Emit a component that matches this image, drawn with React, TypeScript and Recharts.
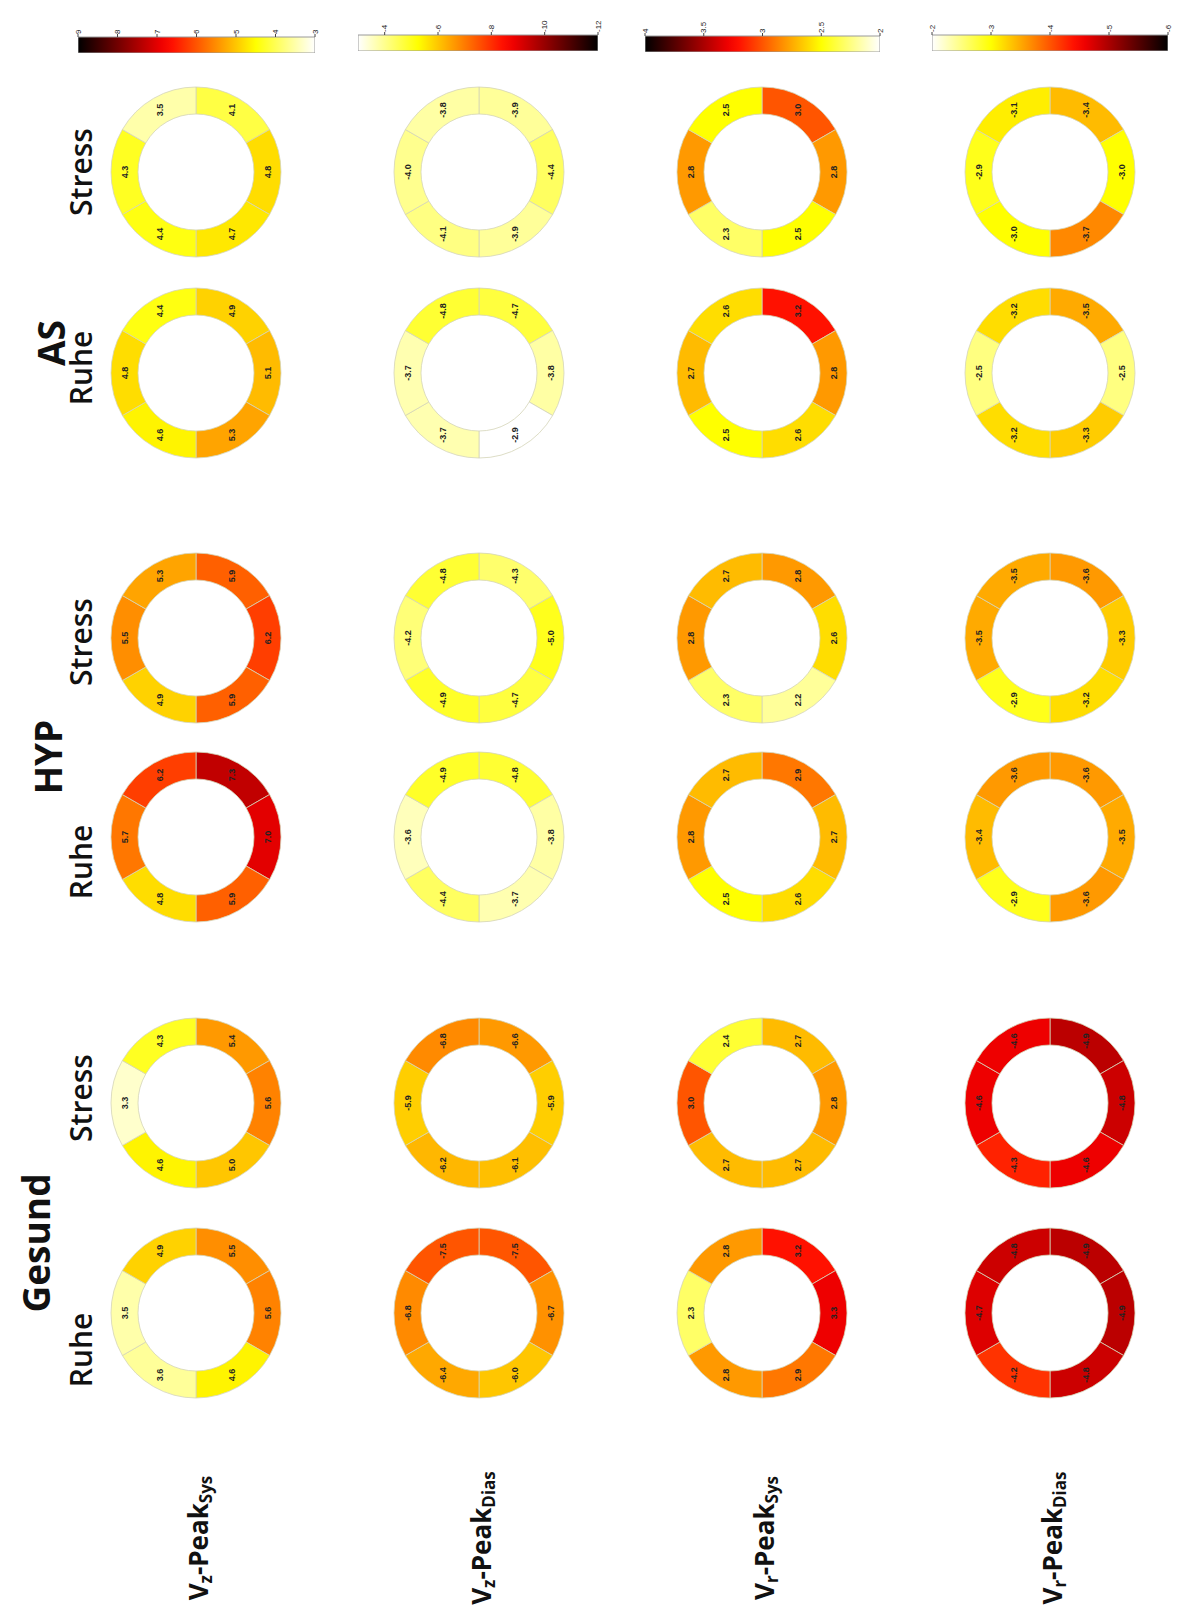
import React from 'react'
import { PieChart, Pie, Cell, BarChart, Bar, XAxis, YAxis } from 'recharts'

// conditions, bottom to top in the (rotated) figure
const conditions = ['Gesund Ruhe', 'Gesund Stress', 'HYP Ruhe', 'HYP Stress', 'AS Ruhe', 'AS Stress']
const groupLabels = ['Gesund', 'HYP', 'AS']
const stateLabels = ['Ruhe', 'Stress', 'Ruhe', 'Stress', 'Ruhe', 'Stress']

// measures, top to bottom
const measureSub = ['z', 'z', 'r', 'r']
const measurePhase = ['Sys', 'Dias', 'Sys', 'Dias']

// colour scale ends (white end / black end) and colorbar ticks per measure
const whiteEnd = [3, -3, 2, -2]
const blackEnd = [9, -12, 4, -6]
const cbTicks = [
  [9, 8, 7, 6, 5, 4, 3],
  [-4, -6, -8, -10, -12],
  [4, 3.5, 3, 2.5, 2],
  [-2, -3, -4, -5, -6],
]

// 6 segments each, clockwise from 12 o'clock; one row per condition
const vzSys = [
  [5.5, 5.6, 4.6, 3.6, 3.5, 4.9],
  [5.4, 5.6, 5.0, 4.6, 3.3, 4.3],
  [7.3, 7.0, 5.9, 4.8, 5.7, 6.2],
  [5.9, 6.2, 5.9, 4.9, 5.5, 5.3],
  [4.9, 5.1, 5.3, 4.6, 4.8, 4.4],
  [4.1, 4.8, 4.7, 4.4, 4.3, 3.5],
]
const vzDias = [
  [-7.5, -6.7, -6.0, -6.4, -6.8, -7.5],
  [-6.6, -5.9, -6.1, -6.2, -5.9, -6.8],
  [-4.8, -3.8, -3.7, -4.4, -3.6, -4.9],
  [-4.3, -5.0, -4.7, -4.9, -4.2, -4.8],
  [-4.7, -3.8, -2.9, -3.7, -3.7, -4.8],
  [-3.9, -4.4, -3.9, -4.1, -4.0, -3.8],
]
const vrSys = [
  [3.2, 3.3, 2.9, 2.8, 2.3, 2.8],
  [2.7, 2.8, 2.7, 2.7, 3.0, 2.4],
  [2.9, 2.7, 2.6, 2.5, 2.8, 2.7],
  [2.8, 2.6, 2.2, 2.3, 2.8, 2.7],
  [3.2, 2.8, 2.6, 2.5, 2.7, 2.6],
  [3.0, 2.8, 2.5, 2.3, 2.8, 2.5],
]
const vrDias = [
  [-4.9, -4.9, -4.8, -4.2, -4.7, -4.8],
  [-4.9, -4.8, -4.6, -4.3, -4.6, -4.6],
  [-3.6, -3.5, -3.6, -2.9, -3.4, -3.6],
  [-3.6, -3.3, -3.2, -2.9, -3.5, -3.5],
  [-3.5, -2.5, -3.3, -3.2, -2.5, -3.2],
  [-3.4, -3.0, -3.7, -3.0, -2.9, -3.1],
]
const measureData = [vzSys, vzDias, vrSys, vrDias]

// layout (page px)
const rowX = [196, 479, 762, 1050]
const colY = [1313, 1103, 837, 638, 373, 172]
const stateY = [1350, 1098, 862, 642, 368, 172]
const groupPos = [[35, 1243], [47, 757], [50, 343]]
const cbLeft = [78, 358, 645, 932]
const cbRight = [315, 598, 880, 1168]
const cbTop = [37, 35, 36, 35]

const RADIAN = Math.PI / 180
const clamp = (v: number) => Math.max(0, Math.min(1, v))

// MATLAB "hot"
function hot(t: number) {
  t = clamp(t)
  const r = Math.round(255 * clamp(t / 0.375))
  const g = Math.round(255 * clamp((t - 0.375) / 0.375))
  const b = Math.round(255 * clamp((t - 0.75) / 0.25))
  return `rgb(${r},${g},${b})`
}
const colorFor = (m: number, v: number) => hot((v - blackEnd[m]) / (whiteEnd[m] - blackEnd[m]))

const SIZE = 190

function Donut({ m, c }: { m: number; c: number }) {
  const data = measureData[m][c].map((v, i) => ({ seg: i + 1, size: 1, val: v }))
  const renderLabel = (p: any) => {
    const r = (p.innerRadius + p.outerRadius) / 2
    const x = p.cx + r * Math.cos(-p.midAngle * RADIAN)
    const y = p.cy + r * Math.sin(-p.midAngle * RADIAN)
    return (
      <text
        key={`l${p.index}`}
        transform={`translate(${x},${y}) rotate(-90)`}
        textAnchor="middle"
        dominantBaseline="central"
        fontSize={9}
        fontWeight="bold"
        fontFamily="Liberation Sans, Arial, sans-serif"
        fill="#222"
      >
        {p.payload.val.toFixed(1)}
      </text>
    )
  }
  return (
    <div style={{ position: 'absolute', left: rowX[m] - SIZE / 2, top: colY[c] - SIZE / 2 }}>
      <PieChart width={SIZE} height={SIZE} margin={{ top: 0, right: 0, bottom: 0, left: 0 }}>
        <Pie
          data={data}
          dataKey="size"
          cx="50%"
          cy="50%"
          innerRadius={58}
          outerRadius={85}
          startAngle={90}
          endAngle={-270}
          stroke="#d4d4b8"
          strokeWidth={0.8}
          label={renderLabel}
          labelLine={false}
          isAnimationActive={false}
        >
          {data.map((d, i) => (
            <Cell key={i} fill={colorFor(m, d.val)} />
          ))}
        </Pie>
      </PieChart>
    </div>
  )
}

function Colorbar({ m }: { m: number }) {
  const lo = Math.min(whiteEnd[m], blackEnd[m])
  const hi = Math.max(whiteEnd[m], blackEnd[m])
  const pad = 8
  const axisH = 22
  const barH = 16
  const data = [{ name: 'cb', range: [lo, hi] }]
  const stops = Array.from({ length: 21 }, (_, i) => {
    const v = hi - (i / 20) * (hi - lo)
    return { off: i / 20, col: colorFor(m, v) }
  })
  const tick = (p: any) => (
    <text
      transform={`translate(${p.x},${p.y + 2}) rotate(-90)`}
      textAnchor="start"
      dominantBaseline="central"
      fontSize={8}
      fontFamily="Liberation Sans, Arial, sans-serif"
      fill="#222"
    >
      {p.payload.value}
    </text>
  )
  return (
    <div style={{ position: 'absolute', left: cbLeft[m] - pad, top: cbTop[m] - axisH }}>
      <BarChart
        width={cbRight[m] - cbLeft[m] + 2 * pad}
        height={axisH + barH}
        data={data}
        layout="vertical"
        margin={{ top: 0, right: pad, bottom: 0, left: pad }}
        barCategoryGap={0}
      >
        <defs>
          <linearGradient id={`cb${m}`} x1="0" y1="0" x2="1" y2="0">
            {stops.map((s, i) => (
              <stop key={i} offset={s.off} stopColor={s.col} />
            ))}
          </linearGradient>
        </defs>
        <XAxis
          type="number"
          orientation="top"
          domain={[lo, hi]}
          reversed
          ticks={cbTicks[m]}
          height={axisH}
          tick={tick}
          tickSize={3}
          tickLine={{ stroke: '#444' }}
          axisLine={false}
          interval={0}
          allowDataOverflow
        />
        <YAxis type="category" dataKey="name" hide />
        <Bar dataKey="range" fill={`url(#cb${m})`} stroke="#9a9a9a" strokeWidth={1} isAnimationActive={false} />
      </BarChart>
    </div>
  )
}

export default function App() {
  return (
    <div style={{ position: 'absolute', left: 0, top: 0, width: 1177, height: 1606, background: '#fff', overflow: 'hidden' }}>
      {measureData.map((_, m) =>
        conditions.map((_, c) => <Donut key={`${m}-${c}`} m={m} c={c} />)
      )}
      {measureData.map((_, m) => (
        <Colorbar key={m} m={m} />
      ))}
      <svg width={1177} height={1606} style={{ position: 'absolute', left: 0, top: 0, pointerEvents: 'none' }}>
        {groupLabels.map((g, i) => (
          <text
            key={g}
            transform={`translate(${groupPos[i][0]},${groupPos[i][1]}) rotate(-90)`}
            textAnchor="middle"
            dominantBaseline="central"
            fontSize={37}
            fontWeight="bold"
            fontFamily="Open Sans, Liberation Sans, sans-serif"
            fill="#111"
          >
            {g}
          </text>
        ))}
        {stateLabels.map((s, c) => (
          <text
            key={c}
            transform={`translate(80,${stateY[c]}) rotate(-90)`}
            textAnchor="middle"
            dominantBaseline="central"
            fontSize={30}
            fontWeight={600}
            fontFamily="Open Sans, Liberation Sans, sans-serif"
            fill="#111"
          >
            {s}
          </text>
        ))}
        {measureSub.map((sub, m) => (
          <text
            key={m}
            transform={`translate(${rowX[m] + 2},1538) rotate(-90)`}
            textAnchor="middle"
            dominantBaseline="central"
            fontSize={26}
            fontWeight="bold"
            fontFamily="Open Sans, Liberation Sans, sans-serif"
            fill="#111"
          >
            V
            <tspan fontSize={17} dy={7}>{sub}</tspan>
            <tspan dy={-7}>-Peak</tspan>
            <tspan fontSize={17} dy={7}>{measurePhase[m]}</tspan>
          </text>
        ))}
      </svg>
    </div>
  )
}
